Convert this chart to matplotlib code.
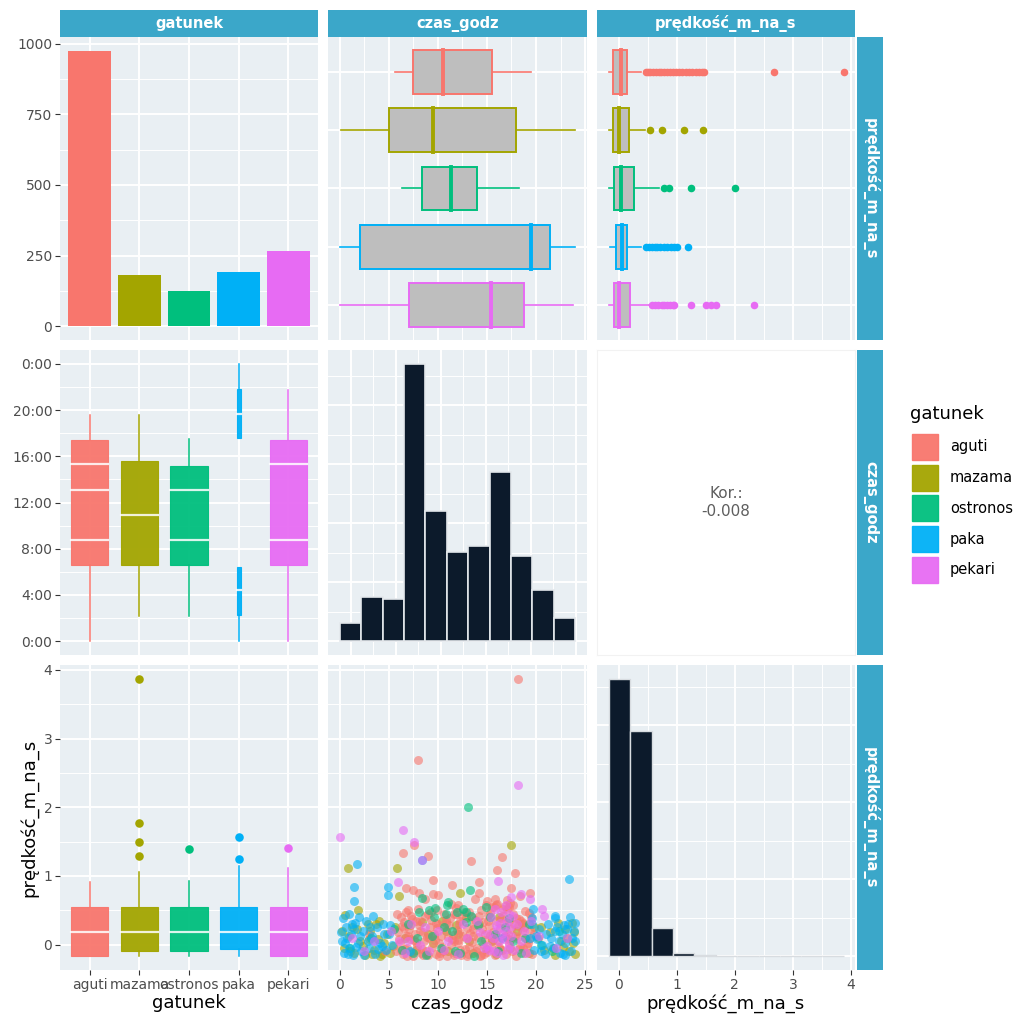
import matplotlib.pyplot as plt
from matplotlib.patches import Rectangle

# --- dane ---
species = ['aguti', 'mazama', 'ostronos', 'paka', 'pekari']
colors = ['#F8766D', '#A3A500', '#00BF7D', '#00B0F6', '#E76BF3']
counts = [975, 180, 124, 191, 268]

# czas_godz wg gatunku (wiersz 1, kolumna 2)
cz_wlo = [5.6, 0.1, 6.3, 0.0, 0.0]
cz_q1 = [7.5, 5.05, 8.4, 2.1, 7.1]
cz_med = [10.5, 9.5, 11.3, 19.5, 15.4]
cz_q3 = [15.5, 18.0, 14.0, 21.4, 18.8]
cz_whi = [19.5, 24.0, 18.3, 24.0, 23.8]

# prędkość wg gatunku (wiersz 1, kolumna 3)
sp_wlo = [-0.17, -0.17, -0.17, -0.15, -0.17]
sp_q1 = [-0.09, -0.09, -0.07, -0.05, -0.08]
sp_med = [0.04, 0.01, 0.05, 0.06, 0.0]
sp_q3 = [0.14, 0.18, 0.26, 0.15, 0.19]
sp_whi = [0.39, 0.45, 0.69, 0.39, 0.55]
sp_out = [
    [0.47, 0.51, 0.55, 0.6, 0.64, 0.69, 0.73, 0.78, 0.84, 0.88, 0.93, 0.99, 1.04,
     1.1, 1.16, 1.21, 1.27, 1.33, 1.38, 1.43, 1.47, 2.67, 3.88],
    [0.55, 0.75, 1.13, 1.46],
    [0.78, 0.87, 1.24, 2.01],
    [0.47, 0.52, 0.57, 0.63, 0.67, 0.72, 0.79, 0.84, 0.9, 0.96, 1.01, 1.19],
    [0.58, 0.63, 0.68, 0.74, 0.78, 0.83, 0.88, 0.93, 0.96, 1.24, 1.5, 1.59, 1.68, 2.34],
]

# czas_godz wg gatunku (wiersz 2, kolumna 1)
tm_wlo = [0.05, 2.2, 2.2, 0.0, 0.05]
tm_whi = [19.6, 19.6, 17.5, 24.0, 21.7]
tm_box_lo = [[6.6], [6.6], [6.6], [2.3, 17.6], [6.6]]
tm_box_hi = [[17.4], [15.6], [15.2], [6.4, 21.8], [17.4]]
tm_lines = [[8.75, 13.1, 15.3], [10.9], [8.75, 13.1], [4.4, 19.7], [8.75, 15.3]]

# histogram czas_godz
cz_edges = [0.0, 2.18, 4.36, 6.55, 8.73, 10.91, 13.09, 15.27, 17.45, 19.64, 21.82, 24.0]
cz_hist = [30, 74, 72, 470, 221, 151, 162, 287, 145, 87, 40]

# histogram prędkość
sp_edges = [-0.17, 0.2, 0.57, 0.93, 1.3, 1.67, 2.04, 2.41, 2.78, 3.14, 3.51, 3.88]
sp_hist = [900, 730, 92, 10, 3, 1, 1, 1, 0, 0, 1]

# prędkość wg gatunku (wiersz 3, kolumna 1)
sb_wlo = [-0.17, -0.17, -0.17, -0.17, -0.17]
sb_q1 = [-0.17, -0.10, -0.10, -0.07, -0.17]
sb_med = [0.19, 0.19, 0.19, 0.19, 0.19]
sb_q3 = [0.54, 0.54, 0.54, 0.54, 0.54]
sb_whi = [0.91, 1.05, 0.92, 1.15, 1.12]
sb_out = [[], [3.86, 1.77, 1.50, 1.29], [1.39], [1.56, 1.25], [1.40]]

kor = '-0.008'

# punkty: czas_godz vs prędkość
aguti_x = [18.2, 8.0, 7.6, 6.4, 9.0, 16.5, 13.4, 16.0, 17.9, 9.5, 11.4, 14.2, 17.5, 19.4, 8.1,
           9.5, 10.0, 14.2, 11.3, 12.0, 6.7, 7.5, 8.7, 15.0, 15.8, 17.0, 18.4, 13.8,
           5.7, 6.1, 6.4, 6.9, 7.2, 7.5, 7.9, 8.3, 8.6, 9.0, 9.4, 9.8, 10.1, 10.5, 10.9, 11.3,
           11.7, 12.0, 12.4, 12.8, 13.1, 13.5, 13.9, 14.3, 14.6, 15.0, 15.4, 15.8, 16.1, 16.5,
           16.9, 17.3, 17.6, 18.0, 18.4, 18.8, 19.2, 19.6,
           5.9, 6.3, 6.7, 7.1, 7.7, 8.1, 8.5, 8.9, 9.2, 9.6, 10.0, 10.3, 10.7, 11.1, 11.5, 11.9,
           12.2, 12.6, 13.0, 13.3, 13.7, 14.1, 14.5, 14.8, 15.2, 15.6, 16.0, 16.3, 16.7, 17.1,
           17.5, 17.9, 18.2, 18.6, 19.0, 19.4,
           6.2, 6.8, 7.4, 8.0, 8.7, 9.3, 9.9, 10.6, 11.2, 11.8, 12.5, 13.2, 13.8, 14.4, 15.1,
           15.7, 16.4, 17.0, 17.7, 18.3, 18.9, 19.5,
           6.0, 6.6, 7.0, 7.8, 8.4, 9.1, 9.7, 10.4, 11.0, 11.6, 12.3, 12.9, 13.6, 14.0, 14.8,
           15.5, 16.2, 16.8, 17.4, 18.1, 18.7, 19.3,
           6.5, 7.3, 8.2, 9.0, 9.8, 10.8, 11.6, 12.3, 13.5, 14.6, 15.3, 15.9, 16.6, 17.3, 18.0, 18.7,
           3.0, 4.6,
           5.8, 6.2, 6.5, 7.0, 7.4, 7.8, 8.2, 8.8, 9.3, 9.9, 10.2, 10.8, 11.4, 11.8, 12.2, 12.7,
           13.2, 13.6, 14.2, 14.7, 15.1, 15.6, 15.9, 16.3, 16.6, 17.0, 17.4, 17.8, 18.3, 18.8,
           19.3, 19.8,
           14.9, 15.5, 16.0, 16.8, 17.2, 17.7, 6.9, 8.5, 10.1, 11.6, 13.0, 14.4, 7.6, 9.6, 12.0,
           15.3, 18.5, 19.1]
aguti_y = [3.87, 2.68, 1.45, 1.34, 1.29, 1.28, 1.21, 1.08, 1.04, 0.94, 0.87, 0.91, 0.82, 0.75, 0.75,
           0.73, 0.72, 0.75, 0.59, 0.58, 0.83, 0.80, 0.66, 0.64, 0.66, 0.65, 0.70, 0.66,
           -0.10, 0.02, -0.14, -0.05, 0.08, -0.16, -0.02, -0.12, 0.05, -0.15, -0.04, -0.13, 0.03, -0.10, -0.16, 0.00,
           -0.12, 0.06, -0.15, -0.06, -0.14, 0.04, -0.09, -0.16, 0.01, -0.11, -0.03, -0.15, 0.05, -0.08,
           -0.14, 0.02, -0.10, -0.16, -0.02, -0.12, 0.03, -0.14,
           0.18, 0.27, 0.12, 0.22, 0.15, 0.29, 0.19, 0.11, 0.25, 0.16, 0.30, 0.13, 0.22, 0.28, 0.14, 0.21,
           0.30, 0.12, 0.24, 0.17, 0.29, 0.11, 0.22, 0.15, 0.27, 0.18, 0.12, 0.24, 0.30, 0.16,
           0.23, 0.13, 0.27, 0.18, 0.10, 0.21,
           0.40, 0.48, 0.37, 0.52, 0.42, 0.36, 0.50, 0.44, 0.38, 0.53, 0.41, 0.47, 0.36, 0.51, 0.43,
           0.55, 0.39, 0.52, 0.45, 0.37, 0.49, 0.40,
           0.08, -0.07, 0.12, 0.04, -0.06, 0.10, 0.07, -0.04, 0.11, 0.05, -0.08, 0.09, 0.12, -0.05, 0.07,
           0.10, -0.03, 0.12, 0.06, 0.09, -0.05, 0.08,
           0.33, 0.41, 0.35, 0.45, 0.32, 0.36, 0.44, 0.34, 0.40, 0.33, 0.46, 0.35, 0.42, 0.34, 0.39, 0.32,
           0.15, -0.10,
           0.45, -0.08, 0.24, 0.50, -0.11, 0.35, 0.20, -0.09, 0.47, 0.24, -0.12, 0.32, 0.08, 0.44, 0.18, 0.48,
           -0.04, 0.22, 0.42, -0.13, 0.34, 0.06, 0.58, -0.07, 0.52, 0.10, 0.60, 0.30, -0.07, 0.26,
           0.46, 0.15,
           0.57, 0.55, 0.59, 0.56, 0.54, 0.58, -0.16, -0.15, -0.16, -0.15, -0.16, -0.15, 0.06, 0.12, 0.02,
           0.14, 0.35, -0.02]

mazama_x = [17.5, 0.8, 5.8, 1.9, 0.5, 12.3, 23.7, 6.0,
            0.4, 0.9, 1.5, 2.1, 2.6, 3.1, 3.5, 3.9, 4.3, 4.8, 5.4, 6.6, 7.8, 8.4, 9.5, 10.4, 11.0,
            12.1, 12.9, 13.6, 14.2, 15.5, 16.2, 17.4, 18.1, 19.3, 20.2, 20.8, 21.4, 21.9, 22.5,
            23.0, 23.4, 23.8, 24.0, 2.9, 4.0, 22.8, 1.2, 3.3, 9.0, 11.8, 14.9, 16.8, 19.8, 22.2,
            0.2, 1.0, 1.8, 2.4, 3.0, 3.7, 4.5, 5.1, 5.6, 7.2, 8.9, 10.8, 13.2, 15.9, 18.6, 20.5,
            21.7, 23.2, 23.9, 4.1]
mazama_y = [1.45, 1.12, 1.12, 0.50, 0.43, 0.75, 0.31, 0.70,
            -0.05, 0.12, -0.12, 0.05, -0.15, 0.20, -0.08, 0.08, -0.14, 0.15, -0.02, 0.10, -0.08, 0.33, 0.02, 0.35, -0.10,
            0.15, 0.38, -0.12, 0.30, 0.05, 0.40, -0.05, 0.20, -0.12, 0.10, -0.08, 0.18, -0.15, 0.05,
            0.22, -0.10, 0.02, -0.14, 0.30, 0.35, -0.03, 0.25, -0.13, 0.15, 0.28, -0.06, 0.12, 0.25, 0.32,
            0.20, -0.10, 0.22, -0.02, 0.08, 0.30, 0.02, -0.12, 0.25, 0.28, -0.14, 0.20, 0.05, -0.14, 0.30, 0.25,
            -0.05, 0.10, 0.18, -0.16]

ostronos_x = [13.1, 13.3, 9.7, 12.9, 8.4, 11.0,
              6.3, 7.0, 7.9, 8.8, 9.6, 10.3, 10.8, 11.4, 12.3, 12.9,
              13.7, 14.4, 15.3, 16.1, 16.8, 17.7, 18.5, 19.3, 20.5, 21.6,
              3.2, 1.0, 9.1, 11.9, 14.9, 10.9, 12.6,
              5.5, 7.5, 8.1, 9.4, 10.6, 11.7, 13.4, 14.1, 15.8, 17.2, 18.9, 22.3]
ostronos_y = [2.01, 0.80, 0.53, 0.48, 0.68, 0.62,
              -0.08, 0.30, 0.10, -0.15, 0.40, -0.05, 0.45, 0.20, -0.12, 0.33,
              -0.16, 0.05, 0.40, -0.10, 0.25, 0.05, -0.12, 0.30, 0.00, -0.10,
              0.10, -0.05, 0.50, 0.47, 0.55, 0.58, 0.52,
              0.22, -0.12, 0.48, 0.12, 0.25, -0.10, 0.42, 0.28, 0.15, 0.38, 0.10, 0.20]

paka_x = [1.8, 23.4, 1.5, 1.5, 4.9, 4.9, 19.7, 21.9, 19.6, 8.4,
          0.2, 0.4, 0.6, 0.9, 1.1, 1.3, 1.6, 1.9, 2.2, 2.4, 2.7, 3.0, 3.3, 3.6, 3.8, 4.1, 4.4,
          4.7, 5.0, 5.3, 0.3, 2.0, 3.4,
          19.4, 19.8, 20.3, 20.6, 20.9, 21.2, 21.5, 21.8, 22.1, 22.4, 22.7, 23.0, 23.3, 23.6,
          23.9, 24.0, 21.9, 23.5, 7.2, 16.5, 0.7, 1.4, 2.9, 4.3, 20.0, 22.9,
          0.1, 0.5, 0.8, 1.2, 1.7, 2.1, 2.5, 3.1, 3.5, 3.9, 4.5, 5.1,
          19.6, 20.1, 20.5, 21.0, 21.4, 21.9, 22.3, 22.8, 23.2, 23.7, 24.0, 0.9, 23.0]
paka_y = [1.18, 0.96, 0.84, 0.64, 0.84, 0.72, 0.52, 0.38, 0.39, 1.23,
          0.05, -0.12, 0.25, -0.05, 0.15, -0.15, 0.32, 0.02, -0.10, 0.20, 0.35, -0.05, 0.12, -0.14, 0.25, 0.02, 0.30,
          -0.08, 0.15, 0.00, 0.38, 0.40, 0.42,
          0.10, -0.08, 0.22, 0.00, -0.14, 0.30, 0.10, -0.05, 0.25, -0.12, 0.15, 0.02, 0.30, -0.10,
          0.20, 0.05, 0.42, 0.40, -0.10, 0.10, 0.10, 0.22, 0.05, -0.02, 0.12, 0.28,
          0.18, 0.02, -0.14, 0.30, -0.03, 0.12, -0.15, 0.26, 0.05, -0.06, 0.15, 0.28,
          0.30, 0.08, -0.10, 0.16, -0.02, 0.20, 0.05, -0.13, 0.22, 0.10, 0.32, 0.45, -0.15]

pekari_x = [18.2, 0.0, 6.4, 7.6, 5.9, 16.1, 18.5, 19.4, 17.5, 20.6, 20.8, 8.4,
            6.0, 6.6, 7.3, 8.2, 9.1, 10.0, 11.0, 12.1, 13.0, 14.0, 14.7, 15.1, 15.4, 15.7, 15.9,
            16.2, 16.4, 16.6, 16.8, 17.0, 17.2, 17.5, 17.8, 18.1, 18.5, 19.0, 3.5, 2.5, 22.0, 23.2,
            15.0, 16.0, 17.3, 16.9,
            15.2, 15.6, 16.0, 16.3, 16.7, 17.1, 17.4, 17.7, 16.5, 15.8, 14.3, 12.6, 10.6, 8.7, 7.0,
            18.8, 19.5, 20.3, 1.2, 5.2]
pekari_y = [2.33, 1.56, 1.67, 1.50, 0.91, 0.92, 0.74, 0.67, 0.69, 0.52, 0.42, 1.23,
            0.05, -0.12, 0.30, 0.00, -0.10, 0.20, 0.05, -0.14, 0.10, 0.35, -0.05, 0.15, 0.40, -0.10, 0.28,
            0.05, 0.48, -0.15, 0.20, 0.35, 0.00, 0.12, -0.08, 0.30, 0.05, -0.12, 0.05, -0.10, -0.05, 0.10,
            -0.02, 0.22, 0.45, 0.58,
            -0.08, 0.10, -0.12, 0.32, 0.08, -0.06, 0.25, 0.42, 0.15, 0.52, 0.18, 0.30, -0.08, 0.25, 0.05,
            0.20, 0.35, 0.12, 0.10, 0.20]

scatter_x = [aguti_x, mazama_x, ostronos_x, paka_x, pekari_x]
scatter_y = [aguti_y, mazama_y, ostronos_y, paka_y, pekari_y]

# --- wygląd ---
W = H = 1024
bg = '#E9EFF3'
strip_col = '#3BA7C9'
hist_col = '#0C1A2B'
box_grey = '#BEBEBE'
cols_px = [(60, 318), (328, 587), (597, 855)]
rows_px = [(37, 340), (350, 655), (665, 970)]
col_names = ['gatunek', 'czas_godz', 'prędkość_m_na_s']
row_names = ['prędkość_m_na_s', 'czas_godz', 'prędkość_m_na_s']

fig = plt.figure(figsize=(W / 100, H / 100), dpi=100)


def panel(r, c, face=bg):
    x0, x1 = cols_px[c]
    y0, y1 = rows_px[r]
    ax = fig.add_axes([x0 / W, 1 - y1 / H, (x1 - x0) / W, (y1 - y0) / H])
    ax.set_facecolor(face)
    for s in ax.spines.values():
        s.set_visible(False)
    ax.set_axisbelow(True)
    ax.tick_params(which='both', length=0, labelleft=False, labelbottom=False)
    return ax


def grid(ax):
    ax.grid(which='major', color='white', lw=1.4)
    ax.grid(which='minor', color='white', lw=0.7)


def left_ticks(ax):
    ax.tick_params(axis='y', which='major', length=3.5, width=0.8, color='#333333',
                   labelleft=True, labelcolor='#4D4D4D', labelsize=10, pad=2)


def bottom_ticks(ax):
    ax.tick_params(axis='x', which='major', length=3.5, width=0.8, color='#333333',
                   labelbottom=True, labelcolor='#4D4D4D', labelsize=10, pad=2)


cat_pos = [1, 2, 3, 4, 5]
cz_lim = (-1.2, 25.2)
sp_lim = (-0.37, 4.07)

# wiersz 1, kolumna 1: liczebności
ax = panel(0, 0)
ax.bar(cat_pos, counts, width=0.86, color=colors, zorder=2)
ax.set_xlim(0.4, 5.6)
ax.set_ylim(-48.75, 1023.75)
ax.set_xticks(cat_pos)
ax.set_yticks([0, 250, 500, 750, 1000])
ax.set_yticks([125, 375, 625, 875], minor=True)
grid(ax)
left_ticks(ax)

# wiersz 1, kolumna 2: czas wg gatunku
ax = panel(0, 1)
for i in range(5):
    y = 5 - i
    c = colors[i]
    ax.plot([cz_wlo[i], cz_q1[i]], [y, y], color=c, lw=1.2, zorder=2)
    ax.plot([cz_q3[i], cz_whi[i]], [y, y], color=c, lw=1.2, zorder=2)
    ax.add_patch(Rectangle((cz_q1[i], y - 0.375), cz_q3[i] - cz_q1[i], 0.75,
                           facecolor=box_grey, edgecolor=c, lw=1.4, zorder=3))
    ax.plot([cz_med[i], cz_med[i]], [y - 0.375, y + 0.375], color=c, lw=2.8, zorder=4)
ax.set_xlim(*cz_lim)
ax.set_ylim(0.4, 5.6)
ax.set_xticks([0, 5, 10, 15, 20, 25])
ax.set_xticks([2.5, 7.5, 12.5, 17.5, 22.5], minor=True)
ax.set_yticks(cat_pos)
grid(ax)

# wiersz 1, kolumna 3: prędkość wg gatunku
ax = panel(0, 2)
for i in range(5):
    y = 5 - i
    c = colors[i]
    ax.plot([sp_wlo[i], sp_q1[i]], [y, y], color=c, lw=1.2, zorder=2)
    ax.plot([sp_q3[i], sp_whi[i]], [y, y], color=c, lw=1.2, zorder=2)
    ax.add_patch(Rectangle((sp_q1[i], y - 0.375), sp_q3[i] - sp_q1[i], 0.75,
                           facecolor=box_grey, edgecolor=c, lw=1.4, zorder=3))
    ax.plot([sp_med[i], sp_med[i]], [y - 0.375, y + 0.375], color=c, lw=2.8, zorder=4)
    ax.scatter(sp_out[i], [y] * len(sp_out[i]), s=30, color=c, zorder=5, linewidths=0)
ax.set_xlim(*sp_lim)
ax.set_ylim(0.4, 5.6)
ax.set_xticks([0, 1, 2, 3, 4])
ax.set_xticks([0.5, 1.5, 2.5, 3.5], minor=True)
ax.set_yticks(cat_pos)
grid(ax)

# wiersz 2, kolumna 1: czas wg gatunku (pionowo)
ax = panel(1, 0)
for i in range(5):
    x = cat_pos[i]
    c = colors[i]
    w = 0.08 if species[i] == 'paka' else 0.75
    ax.plot([x, x], [tm_wlo[i], tm_box_lo[i][0]], color=c, lw=1.1, zorder=2)
    ax.plot([x, x], [tm_box_hi[i][-1], tm_whi[i]], color=c, lw=1.1, zorder=2)
    for lo, hi in zip(tm_box_lo[i], tm_box_hi[i]):
        ax.add_patch(Rectangle((x - w / 2, lo), w, hi - lo, facecolor=c,
                               edgecolor=c, lw=0.8, alpha=0.95, zorder=3))
    for v in tm_lines[i]:
        ax.plot([x - w / 2, x + w / 2], [v, v], color='white', lw=1.6, alpha=0.85, zorder=4)
ax.set_xlim(0.4, 5.6)
ax.set_ylim(*cz_lim)
ax.set_xticks(cat_pos)
ax.set_yticks([0, 4, 8, 12, 16, 20, 24])
ax.set_yticklabels(['0:00', '4:00', '8:00', '12:00', '16:00', '20:00', '0:00'])
ax.set_yticks([2, 6, 10, 14, 18, 22], minor=True)
grid(ax)
left_ticks(ax)

# wiersz 2, kolumna 2: histogram czasu
ax = panel(1, 1)
ax.bar(cz_edges[:-1], cz_hist, width=[b - a for a, b in zip(cz_edges[:-1], cz_edges[1:])],
       align='edge', color=hist_col, edgecolor='#E4E8EC', lw=1.2, zorder=2)
ax.set_xlim(*cz_lim)
ax.set_ylim(-23.5, 493.5)
ax.set_xticks([1.14, 5.73, 10.28, 14.87, 19.46, 24.03])
ax.set_xticks([3.43, 8.0, 12.57, 17.16, 21.75], minor=True)
ax.set_yticks([0, 100, 200, 300, 400])
ax.set_yticks([50, 150, 250, 350, 450], minor=True)
grid(ax)

# wiersz 2, kolumna 3: korelacja
ax = panel(1, 2, face='white')
for s in ax.spines.values():
    s.set_visible(True)
    s.set_color('#F2F2F2')
ax.set_xticks([])
ax.set_yticks([])
ax.text(0.5, 0.5, 'Kor.:\n' + kor, transform=ax.transAxes, ha='center', va='center',
        fontsize=11, color='#5E5E5E', linespacing=1.3)

# wiersz 3, kolumna 1: prędkość wg gatunku (pionowo)
ax = panel(2, 0)
for i in range(5):
    x = cat_pos[i]
    c = colors[i]
    ax.plot([x, x], [sb_wlo[i], sb_q1[i]], color=c, lw=1.1, zorder=2)
    ax.plot([x, x], [sb_q3[i], sb_whi[i]], color=c, lw=1.1, zorder=2)
    ax.add_patch(Rectangle((x - 0.375, sb_q1[i]), 0.75, sb_q3[i] - sb_q1[i], facecolor=c,
                           edgecolor=c, lw=0.8, alpha=0.95, zorder=3))
    ax.plot([x - 0.375, x + 0.375], [sb_med[i], sb_med[i]], color='white', lw=1.6, alpha=0.85, zorder=4)
    ax.scatter([x] * len(sb_out[i]), sb_out[i], s=38, color=c, zorder=5, linewidths=0)
ax.set_xlim(0.4, 5.6)
ax.set_ylim(*sp_lim)
ax.set_xticks(cat_pos)
ax.set_xticklabels(species)
ax.set_yticks([0, 1, 2, 3, 4])
ax.set_yticks([0.5, 1.5, 2.5, 3.5], minor=True)
grid(ax)
left_ticks(ax)
bottom_ticks(ax)
ax.set_xlabel('gatunek', fontsize=13, labelpad=2)
ax.set_ylabel('prędkość_m_na_s', fontsize=13, labelpad=4)

# wiersz 3, kolumna 2: rozrzut
ax = panel(2, 1)
for i in [1, 0, 2, 3, 4]:
    ax.scatter(scatter_x[i], scatter_y[i], s=42, color=colors[i], alpha=0.6,
               linewidths=0, zorder=2)
ax.set_xlim(*cz_lim)
ax.set_ylim(*sp_lim)
ax.set_xticks([0, 5, 10, 15, 20, 25])
ax.set_xticks([2.5, 7.5, 12.5, 17.5, 22.5], minor=True)
ax.set_yticks([0, 1, 2, 3, 4])
ax.set_yticks([0.5, 1.5, 2.5, 3.5], minor=True)
grid(ax)
bottom_ticks(ax)
ax.set_xlabel('czas_godz', fontsize=13, labelpad=2)

# wiersz 3, kolumna 3: histogram prędkości
ax = panel(2, 2)
ax.bar(sp_edges[:-1], sp_hist, width=[b - a for a, b in zip(sp_edges[:-1], sp_edges[1:])],
       align='edge', color=hist_col, edgecolor='#D8DCE0', lw=1.0, zorder=2)
ax.set_xlim(*sp_lim)
ax.set_ylim(-45, 945)
ax.set_xticks([0, 1, 2, 3, 4])
ax.set_xticks([0.5, 1.5, 2.5, 3.5], minor=True)
ax.set_yticks([0, 250, 500, 750])
ax.set_yticks([125, 375, 625, 875], minor=True)
grid(ax)
bottom_ticks(ax)
ax.set_xlabel('prędkość_m_na_s', fontsize=13, labelpad=2)

# paski z nazwami zmiennych
for c, name in enumerate(col_names):
    x0, x1 = cols_px[c]
    fig.add_artist(Rectangle((x0 / W, 1 - 37 / H), (x1 - x0) / W, 27 / H,
                             transform=fig.transFigure, facecolor=strip_col, edgecolor='none'))
    fig.text((x0 + x1) / 2 / W, 1 - 23.5 / H, name, ha='center', va='center',
             color='white', fontsize=10.5, fontweight='bold')
for r, name in enumerate(row_names):
    y0, y1 = rows_px[r]
    fig.add_artist(Rectangle((857 / W, 1 - y1 / H), 26 / W, (y1 - y0) / H,
                             transform=fig.transFigure, facecolor=strip_col, edgecolor='none'))
    fig.text(870 / W, 1 - (y0 + y1) / 2 / H, name, ha='center', va='center', rotation=270,
             color='white', fontsize=10.5, fontweight='bold')

# legenda
fig.text(910 / W, 1 - 414 / H, 'gatunek', ha='left', va='center', fontsize=13)
for i, name in enumerate(species):
    top = 434 + 30.7 * i
    fig.add_artist(Rectangle((912 / W, 1 - (top + 26) / H), 26 / W, 26 / H,
                             transform=fig.transFigure, facecolor=colors[i],
                             edgecolor=colors[i], lw=1.0, alpha=0.95))
    fig.text(950 / W, 1 - (top + 13) / H, name, ha='left', va='center', fontsize=10.5)

fig.savefig('out.png', dpi=100, facecolor='white')
